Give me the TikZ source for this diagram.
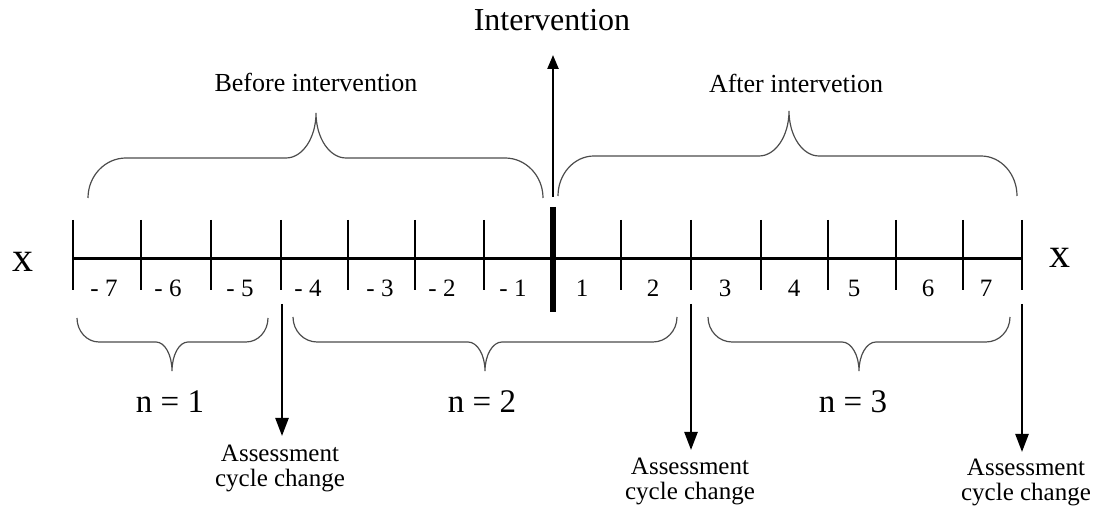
\documentclass[tikz,border=0pt]{standalone}
\usepackage{fontspec}
\setmainfont{Liberation Serif}
\usetikzlibrary{arrows.meta}
\newcommand\mybrace[8]{%
  \draw[bracepath] (#1,#4) .. controls (#1,{#4-0.552*(#4-#5)}) and ({#1+0.448*#7},#5) .. ({#1+#7},#5)
    -- ({#3-#8},#5) .. controls ({#3-0.448*#8},#5) and (#3,{#6+0.552*(#5-#6)}) .. (#3,#6)
    .. controls (#3,{#6+0.552*(#5-#6)}) and ({#3+0.448*#8},#5) .. ({#3+#8},#5)
    -- ({#2-#7},#5) .. controls ({#2-0.448*#7},#5) and (#2,{#4-0.552*(#4-#5)}) .. (#2,#4);}
\begin{document}
\begin{tikzpicture}[x=0.5pt,y=-0.5pt,
  axisline/.style={line width=1.5pt},
  tickline/.style={line width=1.3pt},
  bigtick/.style={line width=2.6pt},
  bracepath/.style={line width=0.6pt, draw=black!70},
  arrowline/.style={line width=1.2pt,-{Triangle[length=9pt,width=6.5pt]}},
  uparrow/.style={line width=1.2pt,-{Triangle[length=7pt,width=5.5pt]}},
  ticklab/.style={font=\fontsize{12.5}{12.5}\selectfont, inner sep=0pt},
  xlab/.style={font=\fontsize{21}{21}\selectfont, inner sep=0pt},
  bracelab/.style={font=\fontsize{13}{13}\selectfont, inner sep=0pt},
  intlab/.style={font=\fontsize{16}{16}\selectfont, inner sep=0pt},
  nlab/.style={font=\fontsize{16.5}{16.5}\selectfont, inner sep=0pt},
  assesslab/.style={font=\fontsize{12.5}{12.5}\selectfont, align=center, inner sep=0pt}
]
\useasboundingbox (0,0) rectangle (1097,506);

% axis
\coordinate (axL) at (73,259);
\coordinate (axR) at (1022,259);
\draw[axisline] (axL) -- (axR);

% ticks
\foreach \x [count=\i] in {73,141,211,281,348,415,484,621,691,761,828,896,963,1022}{
  \coordinate (t\i a) at (\x,220);
  \coordinate (t\i b) at (\x,290);
  \draw[tickline] (t\i a) -- (t\i b);
}
\coordinate (mida) at (553,207);
\coordinate (midb) at (553,312);
\draw[bigtick] (mida) -- (midb);

% x labels
\node[xlab] (xl) at (23,262) {x};
\node[xlab] (xr) at (1060,258) {x};

% tick labels
\foreach \x/\t [count=\i] in {104/- 7,168/- 6,240/- 5,308/- 4,380/- 3,442/- 2,513/- 1,582/1,653/2,725/3,794/4,854/5,928/6,986/7}{
  \node[ticklab] (lab\i) at (\x,288) {\t};
}

% intervention
\node[intlab] (int) at (552,20) {Intervention};
\coordinate (intbase) at (553,197);
\coordinate (inttip) at (553,55);
\draw[uparrow] (intbase) -- (inttip);

% top braces
\mybrace{88}{543}{316}{198}{158}{113}{38}{30}
\mybrace{558}{1017}{789}{196}{156}{111}{36}{30}
\node[bracelab] (before) at (316,82) {Before intervention};
\node[bracelab] (after) at (796,83) {After intervetion};

% bottom braces
\mybrace{77}{268}{172}{318}{342}{371}{22}{16}
\mybrace{293}{677}{485}{317}{342}{371}{24}{17}
\mybrace{708}{1010}{859}{317}{342}{371}{24}{17}
\node[nlab] (n1) at (170,402) {n = 1};
\node[nlab] (n2) at (482,402) {n = 2};
\node[nlab] (n3) at (853,402) {n = 3};

% assessment arrows
\coordinate (a1s) at (282,304);
\coordinate (a1e) at (282,436);
\coordinate (a2s) at (691,304);
\coordinate (a2e) at (691,450);
\coordinate (a3s) at (1022,304);
\coordinate (a3e) at (1022,452);
\draw[arrowline] (a1s) -- (a1e);
\draw[arrowline] (a2s) -- (a2e);
\draw[arrowline] (a3s) -- (a3e);
\node[assesslab] (as1) at (280,468) {Assessment\\cycle change};
\node[assesslab] (as2) at (690,481) {Assessment\\cycle change};
\node[assesslab] (as3) at (1026,482) {Assessment\\cycle change};
\end{tikzpicture}
\end{document}
